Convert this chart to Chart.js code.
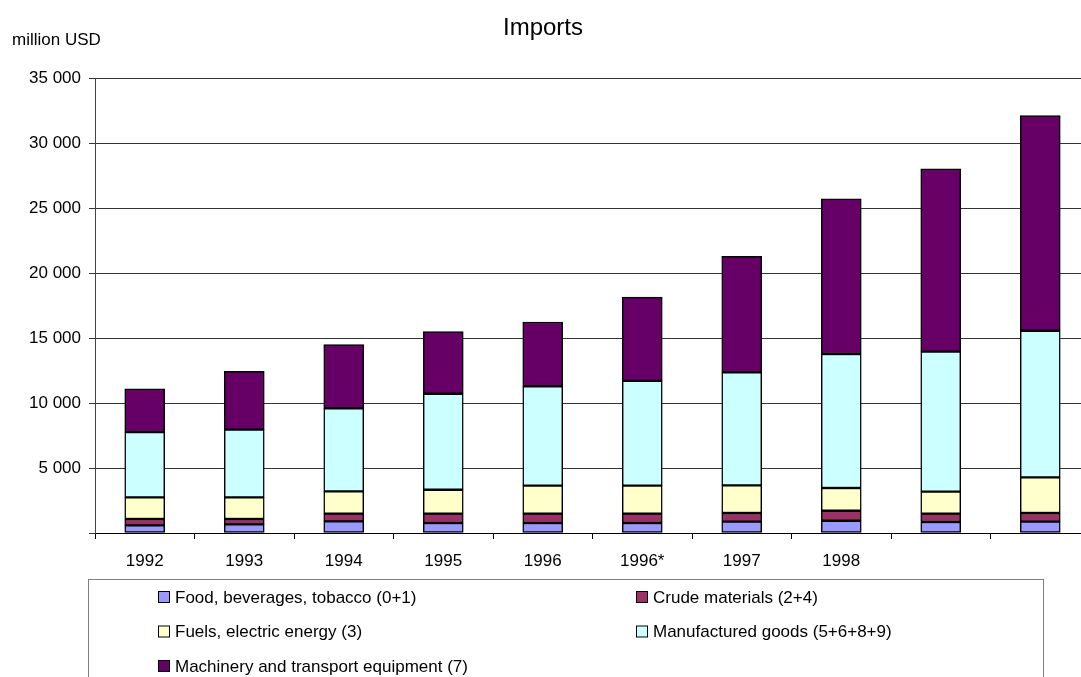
<!DOCTYPE html>
<html>
<head>
<meta charset="utf-8">
<title>Imports</title>
<script src="https://cdn.jsdelivr.net/npm/chart.js@4.4.1/dist/chart.umd.min.js"></script>
<style>
  html, body { margin: 0; padding: 0; background: #fff; overflow: hidden; }
  #wrap { width: 1100px; height: 677px; }
</style>
</head>
<body>
<div id="wrap"><canvas id="chart" width="1100" height="677"></canvas></div>
<script>
// years on the x axis (last two are blank in the original)
const years = ["1992", "1993", "1994", "1995", "1996", "1996*", "1997", "1998", "", ""];

// million USD
const food = [585, 660, 895, 770, 770, 770, 870, 945, 845, 870];
const crude = [490, 420, 590, 715, 715, 715, 670, 770, 640, 670];
const fuels = [1660, 1660, 1715, 1845, 2155, 2155, 2120, 1745, 1695, 2740];
const manufactured = [5030, 5210, 6385, 7385, 7640, 8060, 8690, 10310, 10770, 11280];
const machinery = [3330, 4480, 4900, 4770, 4950, 6450, 8930, 11945, 14070, 16540];

const seriesNames = [
  "Food, beverages, tobacco (0+1)",
  "Crude materials (2+4)",
  "Fuels, electric energy (3)",
  "Manufactured goods (5+6+8+9)",
  "Machinery and transport equipment (7)"
];
const seriesColors = ["#9999FF", "#993366", "#FFFFCC", "#CCFFFF", "#660066"];

const yTicks = [0, 5000, 10000, 15000, 20000, 25000, 30000, 35000];

const FONT = "'Liberation Sans', Arial, Helvetica, sans-serif";
Chart.defaults.font.family = FONT;
Chart.defaults.font.size = 17;
Chart.defaults.color = "#000";

const makeSet = (label, values, i) => ({
  label,
  data: values,
  backgroundColor: seriesColors[i],
  borderColor: "#000",
  borderWidth: 1.5,
  borderSkipped: false,
  barThickness: 40
});

// title, unit label and the boxed legend under the axis
const decorations = {
  id: "decorations",
  afterDraw(chart) {
    const ctx = chart.ctx;
    ctx.save();
    ctx.fillStyle = "#000";
    ctx.textBaseline = "middle";
    ctx.font = "24px " + FONT;
    ctx.textAlign = "center";
    ctx.fillText("Imports", 543, 28);
    ctx.font = "17px " + FONT;
    ctx.textAlign = "left";
    ctx.fillText("million USD", 12, 40);

    // legend box
    ctx.strokeStyle = "#808080";
    ctx.lineWidth = 1;
    ctx.strokeRect(88.5, 579.5, 955, 120);

    chart.data.datasets.forEach((ds, i) => {
      const x = (i % 2 === 0) ? 158 : 636;
      const y = 597 + Math.floor(i / 2) * 34.5;
      ctx.fillStyle = ds.backgroundColor;
      ctx.fillRect(x + 0.5, y - 5.5, 11, 11);
      ctx.strokeStyle = "#000";
      ctx.strokeRect(x + 0.5, y - 5.5, 11, 11);
      ctx.fillStyle = "#000";
      ctx.fillText(ds.label, x + 17, y + 1);
    });
    ctx.restore();
  }
};

const ctx = document.getElementById("chart").getContext("2d");

new Chart(ctx, {
  type: "bar",
  data: {
    labels: years,
    datasets: [
      makeSet(seriesNames[0], food, 0),
      makeSet(seriesNames[1], crude, 1),
      makeSet(seriesNames[2], fuels, 2),
      makeSet(seriesNames[3], manufactured, 3),
      makeSet(seriesNames[4], machinery, 4)
    ]
  },
  options: {
    responsive: false,
    animation: false,
    layout: { padding: { top: 78, right: 10, bottom: 0, left: 0 } },
    plugins: {
      legend: { display: false },
      title: { display: false },
      tooltip: { enabled: false }
    },
    scales: {
      x: {
        stacked: true,
        afterFit: (s) => { s.height = 144; },
        border: { color: "#000", width: 1 },
        grid: {
          offset: true,
          drawOnChartArea: false,
          drawTicks: true,
          tickLength: 6,
          color: "#000"
        },
        ticks: { padding: 12, maxRotation: 0, autoSkip: false }
      },
      y: {
        stacked: true,
        min: yTicks[0],
        max: yTicks[yTicks.length - 1],
        afterFit: (s) => { s.width = 95; },
        afterBuildTicks: (s) => { s.ticks = yTicks.map((v) => ({ value: v })); },
        border: { color: "#444", width: 1 },
        grid: { color: "#333", lineWidth: 1, tickLength: 6 },
        ticks: {
          padding: 8,
          callback: (v) => v === 0 ? "" : String(v).replace(/\B(?=(\d{3})+(?!\d))/g, " ")
        }
      }
    }
  },
  plugins: [decorations]
});
</script>
</body>
</html>
